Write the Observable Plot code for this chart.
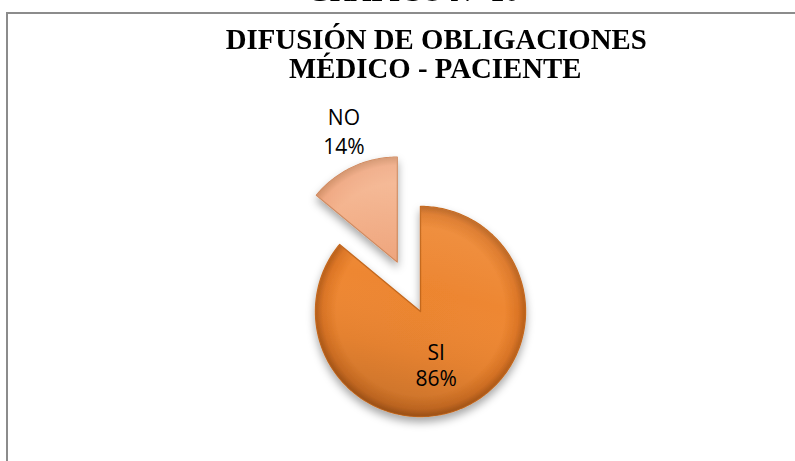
<!DOCTYPE html>
<html>
<head>
<meta charset="utf-8">
<script src="https://cdn.jsdelivr.net/npm/d3@7"></script>
<script src="https://cdn.jsdelivr.net/npm/@observablehq/plot@0.6"></script>
<style>
  html, body { margin: 0; padding: 0; background: #fff; width: 795px; height: 461px; overflow: hidden; }
  #wrap { position: relative; width: 795px; height: 461px; overflow: hidden; }
  #frame { position: absolute; left: 6px; top: 12px; width: 830px; height: 500px;
           border-top: 2px solid #8c8c8c; border-left: 2px solid #8c8c8c; box-sizing: border-box; }
  .ttl { position: absolute; left: 0; text-align: center; white-space: nowrap;
         font-family: "Liberation Serif", "DejaVu Serif", serif; font-weight: bold;
         font-size: 30px; line-height: 29px; color: #000; }
  .ttl span { display: inline-block; transform: scaleX(0.96); transform-origin: 50% 50%; }
  #chart { position: absolute; left: 0; top: 0; }
</style>
</head>
<body>
<div id="wrap">
  <div class="ttl" id="pre" style="width:826px; top:-24px;"><span>GRÁFICO N° 10</span></div>
  <div id="frame"></div>
  <div class="ttl" style="width:872px; top:24px;"><span>DIFUSIÓN DE OBLIGACIONES</span></div>
  <div class="ttl" style="width:870px; top:53px;"><span>MÉDICO - PACIENTE</span></div>
  <div id="chart"></div>
</div>
<script>
// ---- data ----
const categories = ["SI", "NO"];
const values = [86, 14];
const percentLabels = ["86%", "14%"];

// ---- geometry (derived from the data) ----
const W = 795, H = 461;
const R = 105;            // pie radius in px
const CX = 420, CY = 311; // pie centre in px
const EXPLODE = {NO: 0.52};
const total = d3.sum(values);
let acc = 0;
const slices = categories.map((c, i) => {
  const a0 = acc / total * 2 * Math.PI;
  acc += values[i];
  const a1 = acc / total * 2 * Math.PI;
  const mid = (a0 + a1) / 2;
  const ex = EXPLODE[c] || 0;
  const ox = ex * Math.sin(mid), oy = ex * Math.cos(mid);
  return {cat: c, value: values[i], label: percentLabels[i], a0, a1, mid, ox, oy};
});

const pts = [];
for (const s of slices) {
  pts.push({cat: s.cat, x: s.ox, y: s.oy});
  const n = Math.max(8, Math.ceil((s.a1 - s.a0) / (Math.PI / 180)));
  for (let k = 0; k <= n; k++) {
    const a = s.a0 + (s.a1 - s.a0) * k / n;
    pts.push({cat: s.cat, x: s.ox + Math.sin(a), y: s.oy + Math.cos(a)});
  }
}

const labelPts = slices.map(s => {
  const f = s.cat === "NO" ? 1.35 : 0.62;
  return {cat: s.cat, text: s.cat + "\n" + s.label,
          x: s.ox + f * Math.sin(s.mid), y: s.oy + f * Math.cos(s.mid)};
});

const xDomain = [-CX / R, (W - CX) / R];
const yDomain = [-(H - CY) / R, CY / R];

const sliceMark = (cat, key, fill, stroke, sw) => Plot.line(pts.filter(d => d.cat === cat), {
  x: "x", y: "y", curve: "linear-closed", fill, stroke, strokeWidth: sw, ariaDescription: key
});

const chart = Plot.plot({
  width: W, height: H,
  marginTop: 0, marginRight: 0, marginBottom: 0, marginLeft: 0,
  x: {domain: xDomain, axis: null},
  y: {domain: yDomain, axis: null},
  style: {background: "transparent", overflow: "visible"},
  marks: [
    sliceMark("SI", "sSI", "#ee8731", "#c4681f", 1.4),
    sliceMark("SI", "sSIo", "#ffffff", "none", 0),
    sliceMark("NO", "sNO", "#f2aa80", "#cf865a", 1.2),
    sliceMark("NO", "sNOo", "#ffffff", "none", 0),
    Plot.text(labelPts.filter(d => d.cat === "SI"), {
      x: "x", y: "y", text: "text", fontSize: 21, lineHeight: 1.25, lineAnchor: "middle",
      fill: "#000", dx: -12, dy: -6, fontFamily: "Open Sans"
    }),
    Plot.text(labelPts.filter(d => d.cat === "NO"), {
      x: "x", y: "y", text: "text", fontSize: 21, lineHeight: 1.4, lineAnchor: "middle",
      fill: "#000", dx: 7, dy: -4, fontFamily: "Open Sans"
    })
  ]
});

const xs = chart.scale("x"), ys = chart.scale("y");
const no = slices.find(s => s.cat === "NO");
const c0 = [xs.apply(0), ys.apply(0)];
const c1 = [xs.apply(no.ox), ys.apply(no.oy)];
const svg = d3.select(chart);
const defs = svg.insert("defs", ":first-child");

const rg = (id, c, stops) => {
  const g = defs.append("radialGradient").attr("id", id).attr("gradientUnits", "userSpaceOnUse")
    .attr("cx", c[0]).attr("cy", c[1]).attr("r", R);
  stops.forEach(([o, col, op]) => g.append("stop").attr("offset", o).attr("stop-color", col).attr("stop-opacity", op == null ? 1 : op));
};
const lg = (id, c, stops) => {
  const g = defs.append("linearGradient").attr("id", id).attr("gradientUnits", "userSpaceOnUse")
    .attr("x1", c[0] + R * 0.3).attr("y1", c[1] - R).attr("x2", c[0] - R * 0.2).attr("y2", c[1] + R);
  stops.forEach(([o, col, op]) => g.append("stop").attr("offset", o).attr("stop-color", col).attr("stop-opacity", op));
};
rg("gSI", c0, [[0, "#ec852f"], [0.8, "#ee8731"], [0.93, "#dc7525"], [1, "#b65e1a"]]);
lg("gSIo", c0, [[0, "#fff3e0", 0.10], [0.4, "#ffffff", 0], [0.7, "#000000", 0.04], [1, "#000000", 0.17]]);
rg("gNO", c1, [[0, "#eea37a"], [0.75, "#f3ad84"], [0.92, "#eea076"], [1, "#cd8457"]]);
lg("gNOo", c1, [[0, "#ffffff", 0.22], [0.5, "#ffffff", 0.02], [1, "#000000", 0.06]]);

const f = defs.append("filter").attr("id", "shadow").attr("x", "-20%").attr("y", "-20%").attr("width", "140%").attr("height", "150%");
f.append("feDropShadow").attr("dx", 0).attr("dy", 5).attr("stdDeviation", 4)
  .attr("flood-color", "#000").attr("flood-opacity", 0.35);

const setFill = (key, url, filt) => {
  const g = svg.select(`g[aria-description="${key}"]`);
  g.attr("fill", url);
  g.selectAll("path").attr("fill", url);
  if (filt) g.attr("filter", filt);
};
setFill("sSI", "url(#gSI)", "url(#shadow)");
setFill("sSIo", "url(#gSIo)");
setFill("sNO", "url(#gNO)", "url(#shadow)");
setFill("sNOo", "url(#gNOo)");

document.getElementById("chart").appendChild(chart);
</script>
</body>
</html>
